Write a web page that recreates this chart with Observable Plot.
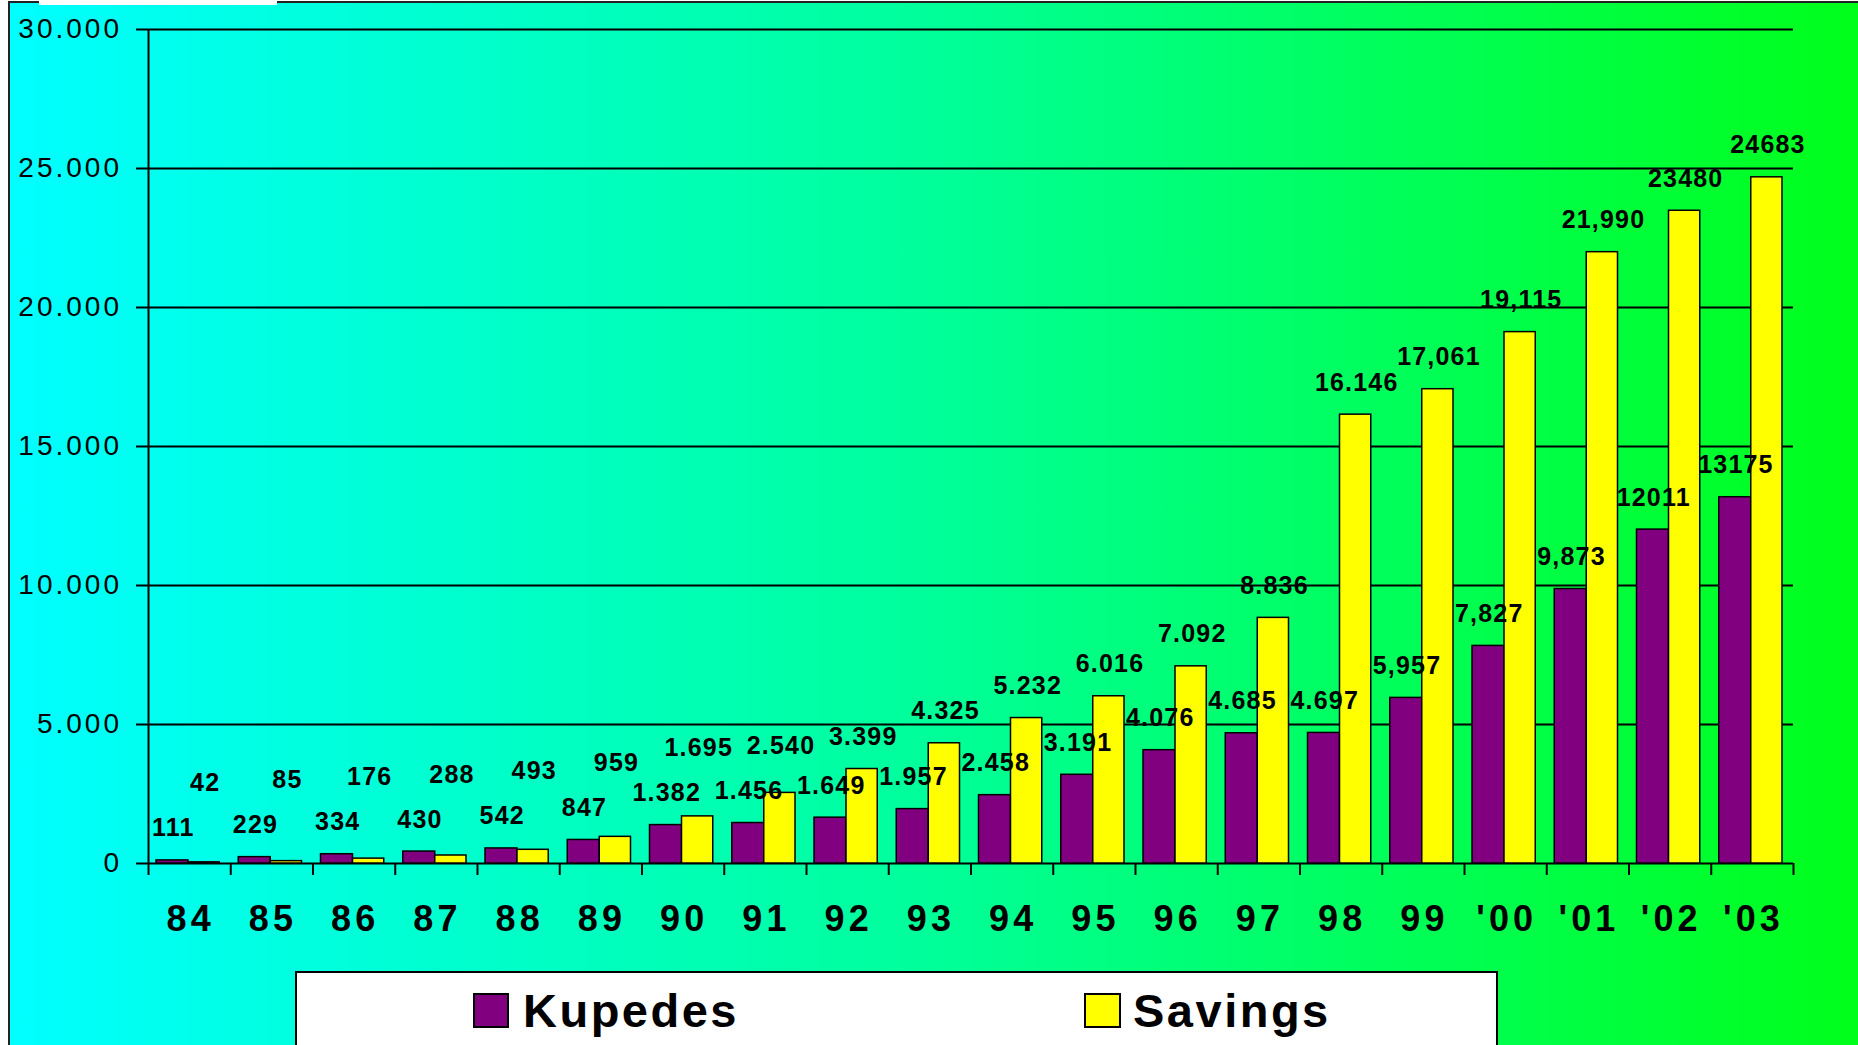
<!DOCTYPE html>
<html>
<head>
<meta charset="utf-8">
<script src="https://cdn.jsdelivr.net/npm/d3@7"></script>
<script src="https://cdn.jsdelivr.net/npm/@observablehq/plot@0.6"></script>
<style>
  html, body { margin: 0; padding: 0; background: #fff; }
  #page { position: relative; width: 1858px; height: 1045px; overflow: hidden; background: #fff;
          font-family: "Liberation Sans", Arial, sans-serif; }
  #frame { position: absolute; left: 8px; top: 1px; right: 0; bottom: 0;
           border-left: 2px solid #222; border-top: 2px solid #222;
           background: linear-gradient(to right, #00FFFF 0%, #00FF99 50%, #00FF1A 100%); }
  #notch { position: absolute; left: 39px; top: 0; width: 238px; height: 5px; background: #fff; }
  #chart { position: absolute; left: 0; top: 0; }
  #legend { position: absolute; left: 295px; top: 971px; width: 1203px; height: 110px;
            background: #fff; border: 2px solid #000; box-sizing: border-box; }
  .sw { position: absolute; top: 993px; width: 36px; height: 35px; border: 2px solid #000; box-sizing: border-box; }
  .lt { position: absolute; top: 987px; font-size: 47px; line-height: 47px; font-weight: bold;
        letter-spacing: 2.5px; color: #000; white-space: nowrap; }
  g[aria-label="y-axis tick label"] text { letter-spacing: 3px; }
  text[aria-label="data label"] { letter-spacing: 1.2px; }
  text[aria-label="year label"] { letter-spacing: 4px; }
</style>
</head>
<body>
<div id="page">
  <div id="frame"></div>
  <div id="notch"></div>
  <div id="chart"></div>
  <div id="legend"></div>
  <div class="sw" style="left:473px;background:#800080"></div>
  <div class="lt" style="left:523px">Kupedes</div>
  <div class="sw" style="left:1084px;width:37px;background:#FFFF00"></div>
  <div class="lt" style="left:1133px">Savings</div>
</div>
<script>
// ---- data ----
const years = ["84","85","86","87","88","89","90","91","92","93","94","95","96","97","98","99","'00","'01","'02","'03"];
const kupedes = [111,229,334,430,542,847,1382,1456,1649,1957,2458,3191,4076,4685,4697,5957,7827,9873,12011,13175];
const kupedesLabels = ["111","229","334","430","542","847","1.382","1.456","1.649","1.957","2.458","3.191","4.076","4.685","4.697","5,957","7,827","9,873","12011","13175"];
const savings = [42,85,176,288,493,959,1695,2540,3399,4325,5232,6016,7092,8836,16146,17061,19115,21990,23480,24683];
const savingsLabels = ["42","85","176","288","493","959","1.695","2.540","3.399","4.325","5.232","6.016","7.092","8.836","16.146","17,061","19,115","21,990","23480","24683"];
const yTicks = [0,5000,10000,15000,20000,25000,30000];
const yTickLabels = ["0","5.000","10.000","15.000","20.000","25.000","30.000"];

// ---- layout ----
const W = 1858, H = 960, ML = 148, MR = 65, MT = 29, MB = 97;
const bw = (W - ML - MR) / years.length;
const yMax = 30000;
const pxPerUnit = (H - MT - MB) / yMax;
const labelGap = 45;   // px: savings label kept at least this far above the Kupedes label
const yearSpacing = 4, dataSpacing = 1.2, tickSpacing = 3;   // must match the CSS letter-spacing

const rows = years.map((year, i) => ({
  year, kupedes: kupedes[i], savings: savings[i],
  kLabel: kupedesLabels[i], sLabel: savingsLabels[i],
  sAnchor: Math.max(savings[i], kupedes[i] + labelGap / pxPerUnit)
}));

const font = '"Liberation Sans", Arial, sans-serif';

const chart = Plot.plot({
  width: W, height: H,
  marginLeft: ML, marginRight: MR, marginTop: MT, marginBottom: MB,
  style: { background: "transparent", color: "black", fontFamily: font, overflow: "visible" },
  x: { type: "band", domain: years, padding: 0, round: false, axis: null, label: null },
  y: { domain: [0, yMax], axis: null, label: null },
  marks: [
    Plot.gridY(yTicks, { stroke: "black", strokeOpacity: 1, strokeWidth: 2 }),
    Plot.axisY(yTicks, {
      tickSize: 12, tickPadding: 17.5 - tickSpacing, strokeWidth: 2, fontSize: 28, label: null,
      tickFormat: d => yTickLabels[yTicks.indexOf(d)]
    }),
    Plot.ruleX([years[0]], { x: d => d, dx: -bw / 2, stroke: "black", strokeWidth: 2 }),
    Plot.axisX(years, { tickSize: 12, tickFormat: () => "", dx: -bw / 2, strokeWidth: 2, label: null }),
    Plot.axisX([years[years.length - 1]], { tickSize: 12, tickFormat: () => "", dx: bw / 2, strokeWidth: 2, label: null }),
    Plot.barY(rows, { x: "year", y: "kupedes", fill: "#800080", stroke: "black", strokeWidth: 1.5,
                      insetLeft: 8, insetRight: bw - 40 }),
    Plot.barY(rows, { x: "year", y: "savings", fill: "#FFFF00", stroke: "black", strokeWidth: 1.5,
                      insetLeft: 40, insetRight: 11 }),
    Plot.text(rows, { x: "year", y: "kupedes", text: "kLabel", dx: -17 + dataSpacing / 2, dy: -32,
                      fontSize: 25, fontWeight: "bold", fill: "black", ariaLabel: () => "data label" }),
    Plot.text(rows, { x: "year", y: "sAnchor", text: "sLabel", dx: 15 + dataSpacing / 2, dy: -32,
                      fontSize: 25, fontWeight: "bold", fill: "black", ariaLabel: () => "data label" }),
    Plot.text(rows, { x: "year", y: d => 0, text: "year", dx: yearSpacing / 2 - 1, dy: 56,
                      fontSize: 36, fontWeight: "bold", fill: "black", ariaLabel: () => "year label" })
  ]
});
document.getElementById("chart").appendChild(chart);
</script>
</body>
</html>
